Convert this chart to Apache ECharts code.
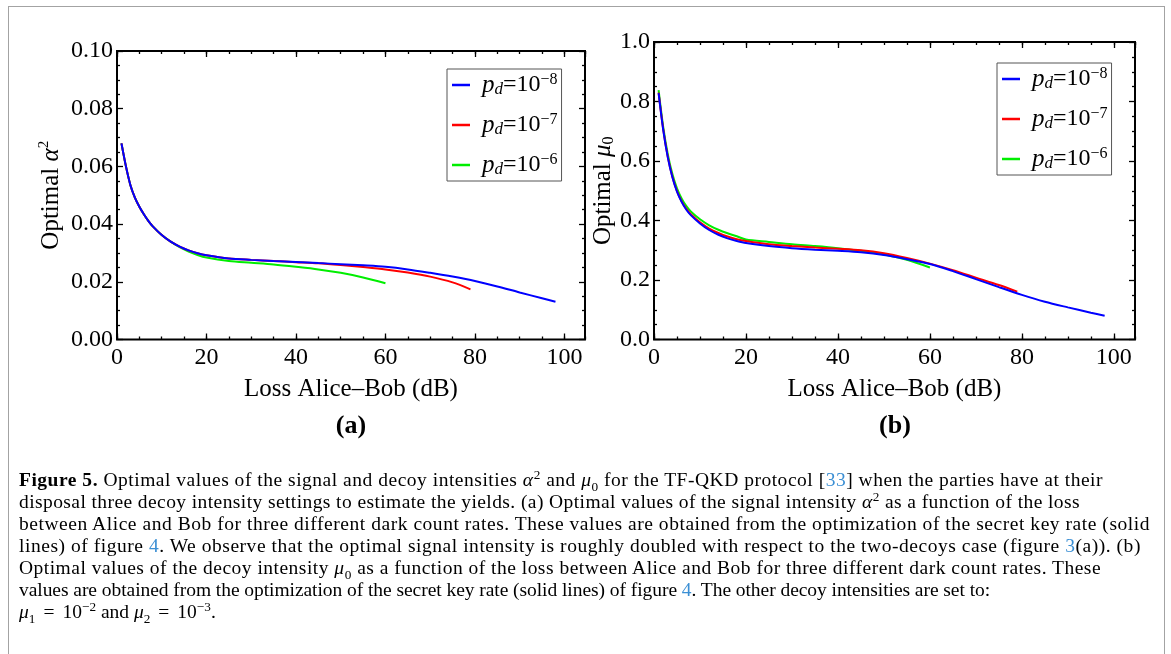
<!DOCTYPE html>
<html><head><meta charset="utf-8">
<script src="https://cdn.jsdelivr.net/npm/echarts@6.0.0/dist/echarts.min.js"></script>
<style>
html,body{margin:0;padding:0;background:#fff;width:1171px;height:654px;overflow:hidden;}
#frame{position:absolute;left:8px;top:6px;width:1157px;height:720px;border:1.5px solid #a3a3a3;box-sizing:border-box;}
#chart{position:absolute;left:0;top:0;width:1171px;height:654px;}
#caption{position:absolute;left:19px;top:469px;font-family:'Liberation Serif',serif;font-size:19.5px;line-height:22px;color:#000;white-space:nowrap;}
#caption .ln{display:block;height:22px;}
#caption .ln span.in{display:inline-block;}
#caption sup,#caption sub{font-size:68%;line-height:0;}
#caption .eq{margin:0 8px;}
.ref{color:#3b8fd4}
</style></head>
<body>
<div id="frame"></div>
<div id="chart"></div>
<div id="caption">
<div class="ln" data-w="1084"><span class="in"><b>Figure 5.</b> Optimal values of the signal and decoy intensities <i>α</i><sup>2</sup> and <i>μ</i><sub>0</sub> for the TF-QKD protocol [<span class="ref">33</span>] when the parties have at their</span></div>
<div class="ln" data-w="1061"><span class="in">disposal three decoy intensity settings to estimate the yields. (a) Optimal values of the signal intensity <i>α</i><sup>2</sup> as a function of the loss</span></div>
<div class="ln" data-w="1131"><span class="in">between Alice and Bob for three different dark count rates. These values are obtained from the optimization of the secret key rate (solid</span></div>
<div class="ln" data-w="1122"><span class="in">lines) of figure <span class="ref">4</span>. We observe that the optimal signal intensity is roughly doubled with respect to the two-decoys case (figure <span class="ref">3</span>(a)). (b)</span></div>
<div class="ln" data-w="1082"><span class="in">Optimal values of the decoy intensity <i>μ</i><sub>0</sub> as a function of the loss between Alice and Bob for three different dark count rates. These</span></div>
<div class="ln" data-w="971"><span class="in">values are obtained from the optimization of the secret key rate (solid lines) of figure <span class="ref">4</span>. The other decoy intensities are set to:</span></div>
<div class="ln"><span class="in"><i>μ</i><sub>1</sub><span class="eq">=</span>10<sup>−2</sup> and <i>μ</i><sub>2</sub><span class="eq">=</span>10<sup>−3</sup>.</span></div>
</div>
<script>
// ---------------- data ----------------
const seriesNames = ['pd=10^-8', 'pd=10^-7', 'pd=10^-6'];
const seriesColors = ['#0000ff', '#ff0000', '#00ee00'];
const xTicks = [0, 20, 40, 60, 80, 100];
const alphaTicks = [0.00, 0.02, 0.04, 0.06, 0.08, 0.10];
const muTicks = [0.0, 0.2, 0.4, 0.6, 0.8, 1.0];

// loss grids (dB)
const loss8 = [1,2,3,4,5,6,7,8,10,12,14,16,18,20,25,30,35,40,45,50,55,60,65,70,75,80,85,90,95,98];
const loss7 = [1,2,3,4,5,6,7,8,10,12,14,16,18,20,25,30,35,40,45,50,55,60,65,70,75,79];
const loss6 = [1,2,3,4,5,6,7,8,10,12,14,16,18,20,25,30,35,40,45,50,55,60];

// (a) optimal alpha^2
const alpha8 = [0.0680,0.0600,0.0535,0.0492,0.0460,0.0434,0.0411,0.0392,0.0362,0.0339,0.0322,0.0309,0.0299,0.0292,0.0281,0.0276,0.0272,0.0269,0.0265,0.0261,0.0257,0.0252,0.0243,0.0231,0.0218,0.0203,0.0184,0.0163,0.0143,0.0131];
const alpha7 = [0.0680,0.0600,0.0535,0.0492,0.0460,0.0434,0.0411,0.0392,0.0362,0.0339,0.0322,0.0309,0.0299,0.0292,0.0281,0.0276,0.0272,0.0268,0.0264,0.0258,0.0251,0.0243,0.0232,0.0218,0.0198,0.0174];
const alpha6 = [0.0680,0.0600,0.0535,0.0492,0.0460,0.0434,0.0411,0.0392,0.0362,0.0339,0.0320,0.0305,0.0293,0.0284,0.0272,0.0266,0.0260,0.0252,0.0243,0.0231,0.0215,0.0195];

// (b) optimal mu0
const mu8 = [0.828,0.705,0.612,0.545,0.497,0.463,0.437,0.418,0.390,0.368,0.352,0.340,0.331,0.324,0.314,0.307,0.302,0.298,0.293,0.284,0.270,0.254,0.230,0.203,0.176,0.150,0.127,0.108,0.090,0.080];
const mu7 = [0.830,0.707,0.614,0.547,0.499,0.465,0.440,0.421,0.394,0.373,0.358,0.346,0.337,0.331,0.320,0.314,0.309,0.305,0.300,0.290,0.274,0.255,0.233,0.208,0.183,0.161];
const mu6 = [0.838,0.715,0.623,0.556,0.508,0.474,0.449,0.430,0.404,0.384,0.369,0.357,0.347,0.336,0.328,0.320,0.314,0.307,0.298,0.286,0.268,0.242];

// ---------------- layout ----------------
const XMAX = 104.6;
const FONT = 'Liberation Serif';
const grids = [
  {left: 117, top: 51, width: 468, height: 288.5},
  {left: 654, top: 42, width: 481, height: 297.5}
];

function pairs(xs, ys){ return xs.map((x,i)=>[x, ys[i]]); }

const tickStyle = {color:'#000', width:1.3};
const noLine = {show:false, onZero:false};
function xAxes(g){
  const base = {gridIndex:g, type:'value', min:0, max:XMAX, axisLine:noLine, splitLine:{show:false}};
  return [
    Object.assign({}, base, {position:'bottom', interval:20,
      axisTick:{inside:true, length:6, lineStyle:tickStyle},
      axisLabel:{show:true, margin:6, color:'#000', fontFamily:FONT, fontSize:24, showMaxLabel:false,
        formatter: v => (xTicks.indexOf(v) >= 0 ? String(v) : '')},
      name:'Loss Alice\u2013Bob (dB)', nameLocation:'middle', nameGap:37, nameMoveOverlap:false,
      nameTextStyle:{color:'#000', fontFamily:FONT, fontSize:25}}),
    Object.assign({}, base, {position:'bottom', interval:5,
      axisTick:{inside:true, length:3, lineStyle:tickStyle}, axisLabel:{show:false}}),
    Object.assign({}, base, {position:'top', interval:20,
      axisTick:{inside:true, length:6, lineStyle:tickStyle}, axisLabel:{show:false}}),
    Object.assign({}, base, {position:'top', interval:5,
      axisTick:{inside:true, length:3, lineStyle:tickStyle}, axisLabel:{show:false}})
  ];
}
function yAxes(g, ticks, dec, nameRich, gap){
  const base = {gridIndex:g, type:'value', min:ticks[0], max:ticks[ticks.length-1],
    interval: ticks[1]-ticks[0], axisLine:noLine, splitLine:{show:false},
    axisTick:{inside:true, length:6, lineStyle:tickStyle},
    minorTick:{show:true, splitNumber:4, length:3, lineStyle:tickStyle}};
  return [
    Object.assign({}, base, {position:'left',
      axisLabel:{margin:4, color:'#000', fontFamily:FONT, fontSize:24, formatter: v => v.toFixed(dec)},
      name: nameRich, nameLocation:'middle', nameRotate:90, nameGap:gap, nameMoveOverlap:false,
      nameTextStyle:{color:'#000', fontFamily:FONT, fontSize:25,
        rich:{
          t:{fontFamily:FONT, fontSize:25, lineHeight:28, color:'#000'},
          i:{fontFamily:FONT, fontSize:25, fontStyle:'italic', lineHeight:28, color:'#000'},
          sup:{fontFamily:FONT, fontSize:15, lineHeight:16, verticalAlign:'top', color:'#000'},
          sub:{fontFamily:FONT, fontSize:16, lineHeight:16, verticalAlign:'bottom', color:'#000'}
        }}}),
    Object.assign({}, base, {position:'right', axisLabel:{show:false}})
  ];
}

const legendRich = {
  p:{fontFamily:FONT, fontSize:25, fontStyle:'italic', lineHeight:26, color:'#000', padding:[0,0,0,7]},
  d:{fontFamily:FONT, fontSize:17, fontStyle:'italic', lineHeight:16, verticalAlign:'bottom', color:'#000'},
  e:{fontFamily:FONT, fontSize:24, lineHeight:26, color:'#000'},
  s:{fontFamily:FONT, fontSize:16, lineHeight:15, verticalAlign:'top', color:'#000'}
};
function legendFmt(name){
  const exp = name.split('^')[1].replace('-', '\u2212');
  return '{p|p}{d|d}{e|=10}{s|' + exp + '}';
}
function legendAt(left, top){
  return {orient:'vertical', left:left, top:top, data:seriesNames.slice(), icon:'rect',
    itemWidth:18, itemHeight:2.5, itemGap:14, padding:[3,4,3,5],
    borderColor:'#555', borderWidth:1, selectedMode:false, formatter:legendFmt,
    textStyle:{rich:legendRich}};
}

function line(name, color, xi, yi, data){
  return {type:'line', name:name, xAxisIndex:xi, yAxisIndex:yi, data:data, showSymbol:false,
    smooth:0.3, lineStyle:{color:color, width:2}, itemStyle:{color:color}, animation:false, z: 5};
}

const chart = echarts.init(document.getElementById('chart'), null, {renderer:'canvas'});
const option = {
  animation:false,
  grid: grids.map(g => Object.assign({show:true, borderColor:'#000', borderWidth:2, backgroundColor:'transparent'}, g)),
  xAxis: xAxes(0).concat(xAxes(1)),
  yAxis: yAxes(0, alphaTicks, 2, '{t|Optimal }{i|\u03b1}{sup|2}', 52).concat(yAxes(1, muTicks, 1, '{t|Optimal }{i|\u03bc}{sub|0}', 37)),
  legend: [legendAt(447, 69), legendAt(997, 63)],
  series: [
    line(seriesNames[2], seriesColors[2], 0, 0, pairs(loss6, alpha6)),
    line(seriesNames[1], seriesColors[1], 0, 0, pairs(loss7, alpha7)),
    line(seriesNames[0], seriesColors[0], 0, 0, pairs(loss8, alpha8)),
    line(seriesNames[2], seriesColors[2], 4, 2, pairs(loss6, mu6)),
    line(seriesNames[1], seriesColors[1], 4, 2, pairs(loss7, mu7)),
    line(seriesNames[0], seriesColors[0], 4, 2, pairs(loss8, mu8))
  ],
  graphic: [
    {type:'text', x:351, y:426, style:{text:'(a)', font:'bold 26px "Liberation Serif"', fill:'#000', textAlign:'center', textVerticalAlign:'middle'}},
    {type:'text', x:895, y:426, style:{text:'(b)', font:'bold 26px "Liberation Serif"', fill:'#000', textAlign:'center', textVerticalAlign:'middle'}}
  ]
};
chart.setOption(option);

// fit caption lines to the reference line lengths
document.querySelectorAll('#caption .ln').forEach(function(ln){
  const inner = ln.querySelector('.in');
  const attr = ln.getAttribute('data-w');
  if (!attr) return;
  const target = parseFloat(attr);
  const w = inner.getBoundingClientRect().width;
  const n = inner.textContent.length;
  if (n > 1) inner.style.letterSpacing = ((target - w) / n).toFixed(3) + 'px';
});
</script>
</body></html>
